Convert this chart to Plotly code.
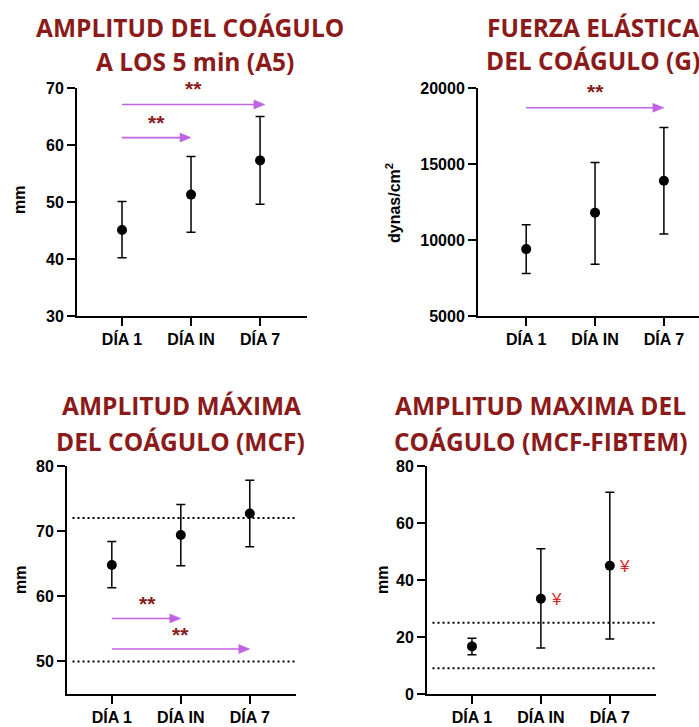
import plotly.graph_objects as go

# ---------------- data ----------------
categories = ["DÍA 1", "DÍA IN", "DÍA 7"]
xpos = [0, 1, 2]

a5_mean = [45.1, 51.3, 57.3]
a5_upper = [50.1, 58.0, 65.0]
a5_lower = [40.2, 44.7, 49.6]
a5_ticks = [30, 40, 50, 60, 70]

g_mean = [9400, 11800, 13900]
g_upper = [11000, 15100, 17400]
g_lower = [7800, 8400, 10400]
g_ticks = [5000, 10000, 15000, 20000]

mcf_mean = [64.8, 69.4, 72.7]
mcf_upper = [68.4, 74.1, 77.8]
mcf_lower = [61.3, 64.7, 67.6]
mcf_ticks = [50, 60, 70, 80]
mcf_ref = [50, 72]

fib_mean = [16.7, 33.4, 45.0]
fib_upper = [19.6, 51.0, 70.8]
fib_lower = [13.8, 16.1, 19.3]
fib_ticks = [0, 20, 40, 60, 80]
fib_ref = [9, 25]

# significance arrows: (start, tip, y level) and star labels (x, y)
a5_arrows = [(0, 2.07, 67.1), (0, 1.0, 61.3)]
a5_stars = [(1.03, 69.9), (0.5, 64.0)]
g_arrows = [(0, 2.0, 18700)]
g_stars = [(1.0, 19750)]
mcf_arrows = [(0, 1.0, 56.6), (0, 2.0, 51.9)]
mcf_stars = [(0.51, 58.9), (1.0, 54.1)]
fib_yen = [(1.23, 33.0), (2.22, 44.7)]

W, H = 699, 727
TITLE_COLOR = "#8B1A1A"
ARROW_COLOR = "#C063E3"

fig = go.Figure()

panels = [
    dict(mean=a5_mean, up=a5_upper, lo=a5_lower, ticks=a5_ticks, yr=[30, 70],
         xpx=(77, 307), ypx=(88, 316), xr=[-0.652, 2.68]),
    dict(mean=g_mean, up=g_upper, lo=g_lower, ticks=g_ticks, yr=[5000, 20000],
         xpx=(478, 699), ypx=(88, 316), xr=[-0.70, 2.51]),
    dict(mean=mcf_mean, up=mcf_upper, lo=mcf_lower, ticks=mcf_ticks, yr=[45, 80],
         xpx=(67, 296), ypx=(466, 694), xr=[-0.65, 2.67]),
    dict(mean=fib_mean, up=fib_upper, lo=fib_lower, ticks=fib_ticks, yr=[0, 80],
         xpx=(427, 656), ypx=(466, 694), xr=[-0.652, 2.67]),
]

tickfont = dict(family="Liberation Sans, Arial", size=16, color="black", weight="bold")

for i, p in enumerate(panels, start=1):
    xa = "x" if i == 1 else f"x{i}"
    ya = "y" if i == 1 else f"y{i}"
    fig.add_trace(go.Scatter(
        x=xpos, y=p["mean"], mode="markers", xaxis=xa, yaxis=ya,
        marker=dict(size=10, color="black"),
        error_y=dict(type="data", symmetric=False,
                     array=[u - m for u, m in zip(p["up"], p["mean"])],
                     arrayminus=[m - l for m, l in zip(p["mean"], p["lo"])],
                     color="black", thickness=1.5, width=4.5),
        showlegend=False, hoverinfo="skip", cliponaxis=False))
    xkey = "xaxis" if i == 1 else f"xaxis{i}"
    ykey = "yaxis" if i == 1 else f"yaxis{i}"
    fig.update_layout(**{
        xkey: dict(domain=[p["xpx"][0] / W, p["xpx"][1] / W], range=p["xr"],
                   anchor=ya, tickvals=xpos, ticktext=categories, automargin=False,
                   showline=True, linecolor="black", linewidth=2,
                   ticks="outside", ticklen=8, tickwidth=2, tickcolor="black",
                   showgrid=False, zeroline=False, tickfont=tickfont, fixedrange=True),
        ykey: dict(domain=[1 - p["ypx"][1] / H, 1 - p["ypx"][0] / H], range=p["yr"],
                   anchor=xa, tickvals=p["ticks"], tickformat="d", automargin=False,
                   showline=True, linecolor="black", linewidth=2,
                   ticks="outside", ticklen=8, tickwidth=2, tickcolor="black",
                   showgrid=False, zeroline=False, tickfont=tickfont, fixedrange=True),
    })

shapes = []
annotations = []


def add_arrows(arrows, xa, ya):
    for x0, x1, yv in arrows:
        shapes.append(dict(type="line", xref=xa, yref=ya, x0=x0, x1=x1 - 0.05, y0=yv, y1=yv,
                           line=dict(color=ARROW_COLOR, width=1.6)))
        shapes.append(dict(type="path", xref=xa, yref=ya, xsizemode="pixel", ysizemode="pixel",
                           xanchor=x1, yanchor=yv, path="M0,0 L-11,-4.5 L-11,4.5 Z",
                           fillcolor=ARROW_COLOR, line=dict(color=ARROW_COLOR, width=0.5)))


def add_stars(stars, xa, ya):
    for xv, yv in stars:
        annotations.append(dict(x=xv, y=yv, xref=xa, yref=ya, text="**", showarrow=False,
                                font=dict(family="Liberation Sans, Arial", size=21,
                                          color=TITLE_COLOR, weight="bold"),
                                xanchor="center", yanchor="middle"))


def add_refs(refs, xa, ya, xr):
    for yv in refs:
        shapes.append(dict(type="line", xref=xa, yref=ya, x0=xr[0] + 0.08, x1=xr[1], y0=yv, y1=yv,
                           line=dict(color="black", width=2, dash="2px,3px")))


add_arrows(a5_arrows, "x", "y")
add_stars(a5_stars, "x", "y")
add_arrows(g_arrows, "x2", "y2")
add_stars(g_stars, "x2", "y2")
add_arrows(mcf_arrows, "x3", "y3")
add_stars(mcf_stars, "x3", "y3")
add_refs(mcf_ref, "x3", "y3", panels[2]["xr"])
add_refs(fib_ref, "x4", "y4", panels[3]["xr"])
for xv, yv in fib_yen:
    annotations.append(dict(x=xv, y=yv, xref="x4", yref="y4", text="¥", showarrow=False,
                            font=dict(family="Liberation Sans, Arial", size=17, color="#E02424"),
                            xanchor="center", yanchor="middle"))

titles = [
    ("AMPLITUD DEL COÁGULO", 190, 28), ("A LOS 5 min (A5)", 195, 62),
    ("FUERZA ELÁSTICA", 593, 27), ("DEL COÁGULO (G)", 593, 61),
    ("AMPLITUD MÁXIMA", 181, 406), ("DEL COÁGULO (MCF)", 180, 441),
    ("AMPLITUD MAXIMA DEL", 540, 406), ("COÁGULO (MCF-FIBTEM)", 541, 441),
]
for txt, px, py in titles:
    annotations.append(dict(x=px / W, y=1 - py / H, xref="paper", yref="paper", text=txt,
                            showarrow=False, xanchor="center", yanchor="middle",
                            font=dict(family="Open Sans", size=24.5, color=TITLE_COLOR, weight="bold")))

axis_titles = [
    ("mm", 20, 200), ("dynas/cm<sup>2</sup>", 393, 203),
    ("mm", 20, 580), ("mm", 382, 580),
]
for txt, px, py in axis_titles:
    annotations.append(dict(x=px / W, y=1 - py / H, xref="paper", yref="paper", text=txt,
                            showarrow=False, xanchor="center", yanchor="middle", textangle=-90,
                            font=dict(family="Liberation Sans, Arial", size=16, color="black",
                                      weight="bold")))

fig.update_layout(
    width=W, height=H, margin=dict(l=0, r=0, t=0, b=0, autoexpand=False),
    paper_bgcolor="white", plot_bgcolor="white", showlegend=False,
    shapes=shapes, annotations=annotations,
)

fig.write_html("out.html", config={"displayModeBar": False},
               post_script="document.body.style.margin='0';document.body.style.overflow='hidden';")
